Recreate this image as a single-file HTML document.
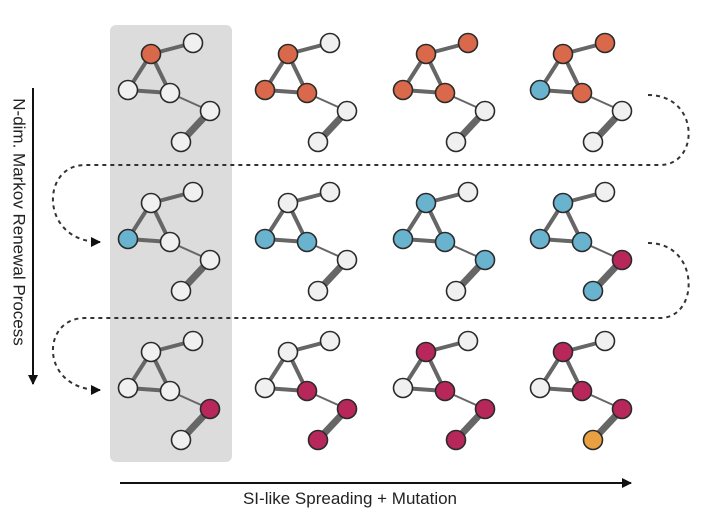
<!DOCTYPE html>
<html><head><meta charset="utf-8"><style>
body{margin:0;background:#fff;}
svg{display:block;}
text{font-family:"Liberation Sans",sans-serif;}
circle{stroke:#2a2a2a;stroke-width:1.6;}
.w{fill:#f0f0f0}.o{fill:#d9694a}.b{fill:#6ab3cf}.m{fill:#b8275a}.y{fill:#e8a040}
</style></head><body>
<svg width="720" height="522" viewBox="0 0 720 522" xmlns="http://www.w3.org/2000/svg">
<defs>
<marker id="ah" markerWidth="10" markerHeight="10" refX="9" refY="5" orient="auto" markerUnits="userSpaceOnUse"><path d="M0,0 L10,5 L0,10 Z" fill="#111"/></marker>
<g id="e">
<line x1="151" y1="54" x2="193" y2="43" stroke="#666" stroke-width="4"/>
<line x1="151" y1="54" x2="128" y2="90" stroke="#666" stroke-width="4"/>
<line x1="151" y1="54" x2="170" y2="93" stroke="#666" stroke-width="4"/>
<line x1="128" y1="90" x2="170" y2="93" stroke="#666" stroke-width="4"/>
<line x1="170" y1="93" x2="210" y2="111" stroke="#666" stroke-width="2"/>
<line x1="210" y1="111" x2="181" y2="142" stroke="#666" stroke-width="7"/>
</g>
</defs>
<rect x="110" y="25" width="122" height="437" rx="6" fill="#dcdcdc"/>

<path d="M648,95 C700,95 700,165 660,165 L85,165 C40,165 40,242 100,242" fill="none" stroke="#333" stroke-width="2" stroke-dasharray="4,4" marker-end="url(#ah)"/>
<path d="M648,243 C700,243 700,318 660,318 L85,318 C40,318 40,390 100,390" fill="none" stroke="#333" stroke-width="2" stroke-dasharray="4,4" marker-end="url(#ah)"/>

<!-- Row 1 -->
<g transform="translate(0,0)"><use href="#e"/>
<circle cx="151" cy="54" r="9.5" class="o"/><circle cx="193" cy="43" r="9.5" class="w"/><circle cx="128" cy="90" r="9.5" class="w"/><circle cx="170" cy="93" r="9.5" class="w"/><circle cx="210" cy="111" r="9.5" class="w"/><circle cx="181" cy="142" r="9.5" class="w"/></g>
<g transform="translate(137,0)"><use href="#e"/>
<circle cx="151" cy="54" r="9.5" class="o"/><circle cx="193" cy="43" r="9.5" class="w"/><circle cx="128" cy="90" r="9.5" class="o"/><circle cx="170" cy="93" r="9.5" class="o"/><circle cx="210" cy="111" r="9.5" class="w"/><circle cx="181" cy="142" r="9.5" class="w"/></g>
<g transform="translate(275,0)"><use href="#e"/>
<circle cx="151" cy="54" r="9.5" class="o"/><circle cx="193" cy="43" r="9.5" class="o"/><circle cx="128" cy="90" r="9.5" class="o"/><circle cx="170" cy="93" r="9.5" class="o"/><circle cx="210" cy="111" r="9.5" class="w"/><circle cx="181" cy="142" r="9.5" class="w"/></g>
<g transform="translate(412,0)"><use href="#e"/>
<circle cx="151" cy="54" r="9.5" class="o"/><circle cx="193" cy="43" r="9.5" class="o"/><circle cx="128" cy="90" r="9.5" class="b"/><circle cx="170" cy="93" r="9.5" class="o"/><circle cx="210" cy="111" r="9.5" class="w"/><circle cx="181" cy="142" r="9.5" class="w"/></g>

<!-- Row 2 -->
<g transform="translate(0,149)"><use href="#e"/>
<circle cx="151" cy="54" r="9.5" class="w"/><circle cx="193" cy="43" r="9.5" class="w"/><circle cx="128" cy="90" r="9.5" class="b"/><circle cx="170" cy="93" r="9.5" class="w"/><circle cx="210" cy="111" r="9.5" class="w"/><circle cx="181" cy="142" r="9.5" class="w"/></g>
<g transform="translate(137,149)"><use href="#e"/>
<circle cx="151" cy="54" r="9.5" class="w"/><circle cx="193" cy="43" r="9.5" class="w"/><circle cx="128" cy="90" r="9.5" class="b"/><circle cx="170" cy="93" r="9.5" class="b"/><circle cx="210" cy="111" r="9.5" class="w"/><circle cx="181" cy="142" r="9.5" class="w"/></g>
<g transform="translate(275,149)"><use href="#e"/>
<circle cx="151" cy="54" r="9.5" class="b"/><circle cx="193" cy="43" r="9.5" class="w"/><circle cx="128" cy="90" r="9.5" class="b"/><circle cx="170" cy="93" r="9.5" class="b"/><circle cx="210" cy="111" r="9.5" class="b"/><circle cx="181" cy="142" r="9.5" class="w"/></g>
<g transform="translate(412,149)"><use href="#e"/>
<circle cx="151" cy="54" r="9.5" class="b"/><circle cx="193" cy="43" r="9.5" class="w"/><circle cx="128" cy="90" r="9.5" class="b"/><circle cx="170" cy="93" r="9.5" class="b"/><circle cx="210" cy="111" r="9.5" class="m"/><circle cx="181" cy="142" r="9.5" class="b"/></g>

<!-- Row 3 -->
<g transform="translate(0,298)"><use href="#e"/>
<circle cx="151" cy="54" r="9.5" class="w"/><circle cx="193" cy="43" r="9.5" class="w"/><circle cx="128" cy="90" r="9.5" class="w"/><circle cx="170" cy="93" r="9.5" class="w"/><circle cx="210" cy="111" r="9.5" class="m"/><circle cx="181" cy="142" r="9.5" class="w"/></g>
<g transform="translate(137,298)"><use href="#e"/>
<circle cx="151" cy="54" r="9.5" class="w"/><circle cx="193" cy="43" r="9.5" class="w"/><circle cx="128" cy="90" r="9.5" class="w"/><circle cx="170" cy="93" r="9.5" class="m"/><circle cx="210" cy="111" r="9.5" class="m"/><circle cx="181" cy="142" r="9.5" class="m"/></g>
<g transform="translate(275,298)"><use href="#e"/>
<circle cx="151" cy="54" r="9.5" class="m"/><circle cx="193" cy="43" r="9.5" class="w"/><circle cx="128" cy="90" r="9.5" class="w"/><circle cx="170" cy="93" r="9.5" class="m"/><circle cx="210" cy="111" r="9.5" class="m"/><circle cx="181" cy="142" r="9.5" class="m"/></g>
<g transform="translate(412,298)"><use href="#e"/>
<circle cx="151" cy="54" r="9.5" class="m"/><circle cx="193" cy="43" r="9.5" class="w"/><circle cx="128" cy="90" r="9.5" class="w"/><circle cx="170" cy="93" r="9.5" class="m"/><circle cx="210" cy="111" r="9.5" class="m"/><circle cx="181" cy="142" r="9.5" class="y"/></g>

<line x1="33" y1="88" x2="33" y2="384" stroke="#111" stroke-width="2" marker-end="url(#ah)"/>
<text transform="translate(18,222) rotate(90)" text-anchor="middle" font-size="17" fill="#222" dominant-baseline="middle">N-dim. Markov Renewal Process</text>
<line x1="120" y1="483" x2="631" y2="483" stroke="#111" stroke-width="2" marker-end="url(#ah)"/>
<text x="350" y="504" text-anchor="middle" font-size="17" fill="#222">SI-like Spreading + Mutation</text>
</svg>
</body></html>
